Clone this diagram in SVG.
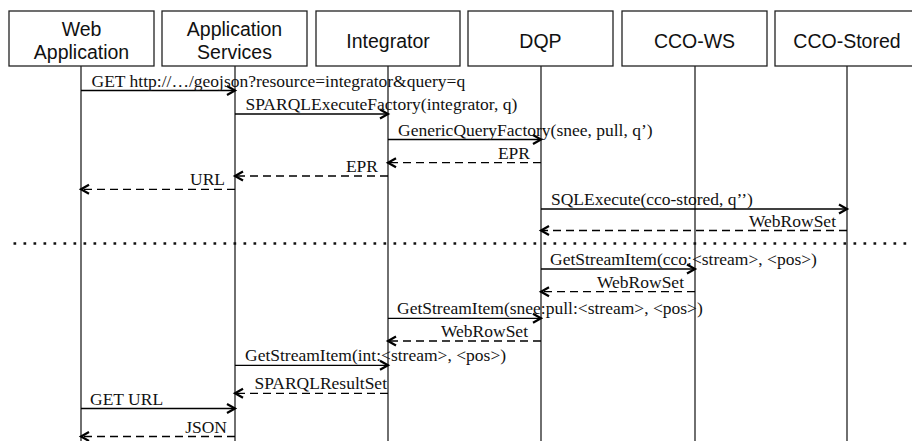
<svg xmlns="http://www.w3.org/2000/svg" width="912" height="441" viewBox="0 0 912 441">
<style>
.box{fill:#fff;stroke:#222;stroke-width:1.3}
.hdr{font-family:"Liberation Sans",Arial,sans-serif;font-size:19.5px;fill:#111;text-anchor:middle}
.life{stroke:#222;stroke-width:1.3}
.msg{stroke:#000;stroke-width:1.3;fill:none;marker-end:url(#arr)}
.ret{stroke:#000;stroke-width:1.3;fill:none;stroke-dasharray:8 5;marker-end:url(#arr)}
.lbl{font-family:"Liberation Serif","Times New Roman",serif;font-size:17.5px;fill:#111}
.end{text-anchor:end}
.sep{stroke:#111;stroke-width:2.7;stroke-dasharray:2.7 7.3;fill:none}
</style>
<defs>
<marker id="arr" markerUnits="userSpaceOnUse" markerWidth="14" markerHeight="14" refX="10" refY="6" orient="auto">
<path d="M2,1.5 L10,6 L2,10.5" fill="none" stroke="#000" stroke-width="2.2"/>
</marker>
</defs>
<rect width="912" height="441" fill="#fff"/>
<g id="lifelines">
<line class="life" x1="81" y1="66" x2="81" y2="441"/>
<line class="life" x1="235" y1="66" x2="235" y2="441"/>
<line class="life" x1="388" y1="66" x2="388" y2="441"/>
<line class="life" x1="541" y1="66" x2="541" y2="441"/>
<line class="life" x1="695" y1="66" x2="695" y2="441"/>
<line class="life" x1="847" y1="66" x2="847" y2="441"/>
</g>
<g id="web-application">
<rect class="box" x="9" y="11" width="145" height="55"/>
<text class="hdr" x="81.5" y="36">Web</text>
<text class="hdr" x="81.5" y="59">Application</text>
</g>
<g id="application-services">
<rect class="box" x="162" y="11" width="145" height="55"/>
<text class="hdr" x="234.5" y="36">Application</text>
<text class="hdr" x="234.5" y="59">Services</text>
</g>
<g id="integrator">
<rect class="box" x="316" y="11" width="144" height="55"/>
<text class="hdr" x="388" y="48">Integrator</text>
</g>
<g id="dqp">
<rect class="box" x="468" y="11" width="145" height="55"/>
<text class="hdr" x="540.5" y="48">DQP</text>
</g>
<g id="cco-ws">
<rect class="box" x="622" y="11" width="145" height="55"/>
<text class="hdr" x="694.5" y="48">CCO-WS</text>
</g>
<g id="cco-stored">
<rect class="box" x="775" y="11" width="145" height="55"/>
<text class="hdr" x="847" y="48">CCO-Stored</text>
</g>
<g id="separator">
<line class="sep" x1="13.5" y1="243.5" x2="912" y2="243.5"/>
</g>
<g id="connectors">
<line class="msg" x1="81" y1="90.5" x2="235" y2="90.5"/>
<text class="lbl" x="91.5" y="86.5">GET http://…/geojson?resource=integrator&amp;query=q</text>
<line class="msg" x1="235" y1="114" x2="388" y2="114"/>
<text class="lbl" x="245.5" y="110">SPARQLExecuteFactory(integrator, q)</text>
<line class="msg" x1="388" y1="139.5" x2="541" y2="139.5"/>
<text class="lbl" x="398" y="135.5">GenericQueryFactory(snee, pull, q’)</text>
<line class="ret" x1="541" y1="162.7" x2="388" y2="162.7"/>
<text class="lbl end" x="530" y="158.5">EPR</text>
<line class="ret" x1="388" y1="176" x2="235" y2="176"/>
<text class="lbl end" x="378" y="172">EPR</text>
<line class="ret" x1="235" y1="189.3" x2="81" y2="189.3"/>
<text class="lbl end" x="225" y="185.3">URL</text>
<line class="msg" x1="541" y1="209" x2="847" y2="209"/>
<text class="lbl" x="551" y="205">SQLExecute(cco-stored, q’’)</text>
<line class="ret" x1="847" y1="230.5" x2="541" y2="230.5"/>
<text class="lbl end" x="836" y="226.5">WebRowSet</text>
<line class="msg" x1="541" y1="269" x2="695" y2="269"/>
<text class="lbl" x="550" y="265">GetStreamItem(cco:&lt;stream&gt;, &lt;pos&gt;)</text>
<line class="ret" x1="695" y1="291.7" x2="541" y2="291.7"/>
<text class="lbl end" x="684" y="287.7">WebRowSet</text>
<line class="msg" x1="388" y1="318.3" x2="541" y2="318.3"/>
<text class="lbl" x="397" y="314.3">GetStreamItem(snee:pull:&lt;stream&gt;, &lt;pos&gt;)</text>
<line class="ret" x1="541" y1="341" x2="388" y2="341"/>
<text class="lbl end" x="528" y="337">WebRowSet</text>
<line class="msg" x1="235" y1="365.3" x2="388" y2="365.3"/>
<text class="lbl" x="245" y="361.3">GetStreamItem(int:&lt;stream&gt;, &lt;pos&gt;)</text>
<line class="ret" x1="388" y1="393.3" x2="235" y2="393.3"/>
<text class="lbl end" x="387" y="389.3">SPARQLResultSet</text>
<line class="msg" x1="81" y1="408.5" x2="235" y2="408.5"/>
<text class="lbl" x="90" y="404.5">GET URL</text>
<line class="ret" x1="235" y1="436.5" x2="81" y2="436.5"/>
<text class="lbl end" x="227" y="432.5">JSON</text>
</g>
</svg>
